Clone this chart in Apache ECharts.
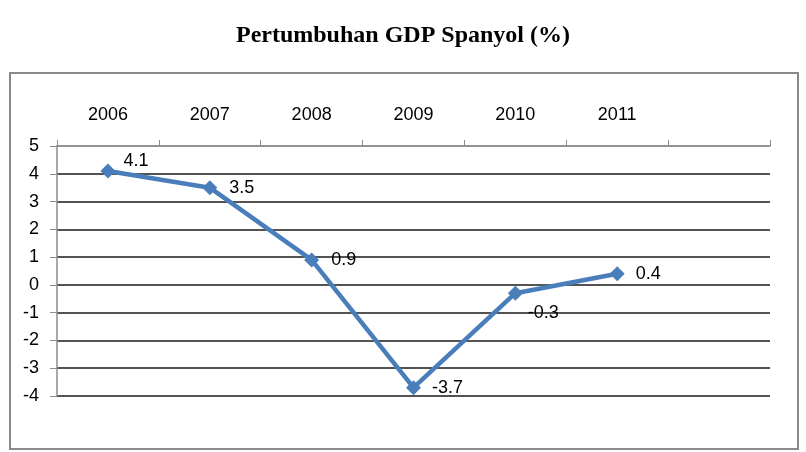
<!DOCTYPE html>
<html>
<head>
<meta charset="utf-8">
<title>Pertumbuhan GDP Spanyol (%)</title>
<script src="https://cdn.jsdelivr.net/npm/echarts@6/dist/echarts.min.js"></script>
<style>
  html, body { margin: 0; padding: 0; background: #fff; }
  #main { width: 806px; height: 452px; }
</style>
</head>
<body>
<div id="main"></div>
<script>
var years = ['2006', '2007', '2008', '2009', '2010', '2011', ''];
var growth = [4.1, 3.5, 0.9, -3.7, -0.3, 0.4];
var yTicks = [-4, -3, -2, -1, 0, 1, 2, 3, 4, 5];

// label nudges so they sit like the original (4.1 up, -0.3 down)
var labelOffsets = [[4, -10], [8, 0], [8, 0], [7, 0], [1, 20], [7, 0]];

var lineData = growth.map(function (v, i) {
    return { value: v, label: { offset: labelOffsets[i] } };
});

// last split line (at 5) is the grey top axis line
var gridColors = yTicks.map(function (t, i) {
    return i === yTicks.length - 1 ? '#8c8c8c' : '#1a1a1a';
});

var option = {
    animation: false,
    backgroundColor: '#fff',
    title: {
        text: 'Pertumbuhan GDP Spanyol (%)',
        left: 'center',
        top: 19,
        textStyle: {
            fontFamily: 'Liberation Serif',
            fontWeight: 'bold',
            fontSize: 24,
            color: '#000'
        }
    },
    graphic: [{
        type: 'rect',
        shape: { x: 10, y: 73, width: 788, height: 376 },
        style: { fill: 'none', stroke: '#8a8a8a', lineWidth: 2 },
        silent: true
    }],
    grid: { left: 57, right: 36, top: 146, bottom: 56 },
    xAxis: {
        type: 'category',
        position: 'top',
        data: years,
        boundaryGap: true,
        axisLine: { onZero: false, lineStyle: { color: '#8c8c8c', width: 1.5 } },
        axisTick: { show: true, length: 6, lineStyle: { color: '#8c8c8c' } },
        axisLabel: {
            margin: 22,
            fontFamily: 'Liberation Sans',
            fontSize: 18,
            color: '#000'
        },
        splitLine: { show: false }
    },
    yAxis: {
        type: 'value',
        min: -4,
        max: 5,
        interval: 1,
        axisLine: { show: true, lineStyle: { color: '#8c8c8c', width: 1.5 } },
        axisTick: { show: true, length: 7, lineStyle: { color: '#8c8c8c' } },
        axisLabel: {
            margin: 18,
            fontFamily: 'Liberation Sans',
            fontSize: 18,
            color: '#000'
        },
        splitLine: { show: true, lineStyle: { color: gridColors, width: 1.5 } }
    },
    series: [{
        type: 'line',
        data: lineData,
        symbol: 'diamond',
        symbolSize: 15,
        lineStyle: { color: '#4a7ebb', width: 4.5 },
        itemStyle: { color: '#4a7ebb' },
        label: {
            show: true,
            position: 'right',
            distance: 4,
            fontFamily: 'Liberation Sans',
            fontSize: 18,
            color: '#000'
        }
    }]
};

var myChart = echarts.init(document.getElementById('main'));
myChart.setOption(option);
</script>
</body>
</html>
